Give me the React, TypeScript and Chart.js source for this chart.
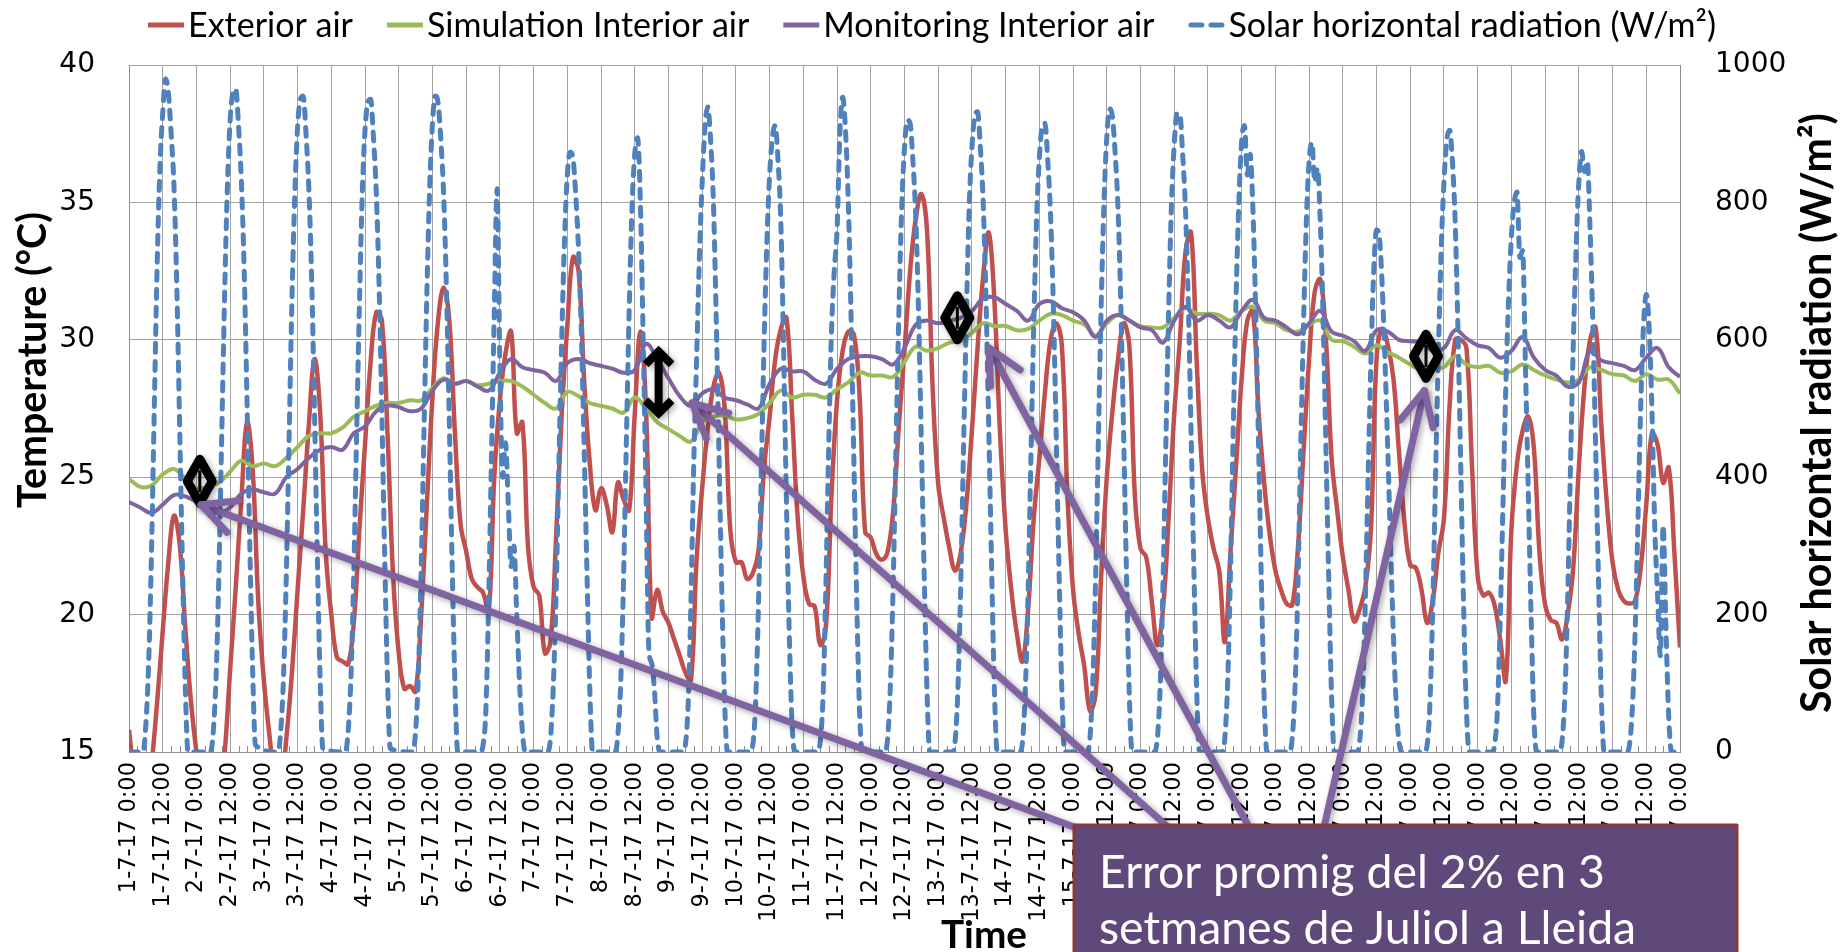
import React, { useEffect, useRef } from 'react';
import { Chart, registerables } from 'chart.js';

Chart.register(...registerables);

const CANVAS_W = 1843;
const CANVAS_H = 952;

// Time axis: one label every 12 hours
const xTickLabels = [
  '1-7-17 0:00', '1-7-17 12:00', '2-7-17 0:00', '2-7-17 12:00', '3-7-17 0:00', '3-7-17 12:00',
  '4-7-17 0:00', '4-7-17 12:00', '5-7-17 0:00', '5-7-17 12:00', '6-7-17 0:00', '6-7-17 12:00',
  '7-7-17 0:00', '7-7-17 12:00', '8-7-17 0:00', '8-7-17 12:00', '9-7-17 0:00', '9-7-17 12:00',
  '10-7-17 0:00', '10-7-17 12:00', '11-7-17 0:00', '11-7-17 12:00', '12-7-17 0:00', '12-7-17 12:00',
  '13-7-17 0:00', '13-7-17 12:00', '14-7-17 0:00', '14-7-17 12:00', '15-7-17 0:00', '15-7-17 12:00',
  '16-7-17 0:00', '16-7-17 12:00', '17-7-17 0:00', '17-7-17 12:00', '18-7-17 0:00', '18-7-17 12:00',
  '19-7-17 0:00', '19-7-17 12:00', '20-7-17 0:00', '20-7-17 12:00', '21-7-17 0:00', '21-7-17 12:00',
  '22-7-17 0:00', '22-7-17 12:00', '23-7-17 0:00', '23-7-17 12:00', '24-7-17 0:00',
];
const HOURS_PER_LABEL = 12;
const TOTAL_HOURS = (xTickLabels.length - 1) * HOURS_PER_LABEL;

// Exterior air temperature (°C), one value every 2 h, one row per day
const exteriorStepHours = 2;
const exteriorAir = [
  15.8, 14.0, 13.0, 12.8, 14.5, 16.8, 19.4, 21.9, 23.6, 22.6, 19.6, 16.9,
  15.0, 13.5, 12.5, 12.3, 13.0, 14.9, 18.0, 21.0, 24.2, 27.0, 25.3, 20.5,
  17.6, 15.6, 14.0, 13.8, 15.5, 17.9, 20.9, 23.8, 26.9, 29.3, 27.4, 22.3,
  20.0, 18.45, 18.3, 18.2, 19.7, 23.1, 26.2, 29.2, 31.0, 30.7, 26.6, 21.4,
  18.6, 17.3, 17.4, 17.2, 20.0, 24.0, 27.9, 30.7, 31.9, 30.7, 26.6, 23.3,
  22.3, 21.3, 21.0, 20.8, 20.1, 25.0, 27.8, 29.5, 30.3, 26.6, 27.0, 22.5,
  21.0, 20.7, 18.6, 19.0, 22.8, 27.3, 30.5, 33.0, 32.5, 28.5, 25.5, 23.8,
  24.6, 24.0, 23.0, 24.8, 24.2, 23.8, 27.3, 30.3, 27.5, 19.9, 20.9, 20.1,
  19.7, 19.1, 18.5, 17.9, 17.6, 22.0, 24.6, 26.8, 28.3, 28.8, 27.5, 23.1,
  21.9, 21.9, 21.3, 21.5, 22.3, 25.3, 27.2, 29.3, 30.4, 30.8, 27.3, 23.5,
  21.4, 20.4, 20.3, 18.9, 19.5, 24.3, 27.8, 29.6, 30.3, 30.2, 28.0, 23.0,
  22.8, 22.2, 22.0, 22.3, 23.8, 26.9, 29.6, 32.5, 34.4, 35.3, 34.0, 28.3,
  24.75, 23.5, 22.4, 21.6, 22.25, 24.0, 26.7, 29.7, 32.3, 33.9, 31.4, 26.6,
  23.1, 20.9, 19.3, 18.3, 20.2, 23.5, 25.7, 28.1, 30.0, 30.6, 29.8, 24.3,
  20.9, 19.3, 18.1, 16.5, 17.1, 21.4, 25.0, 27.4, 29.3, 30.6, 29.8, 24.3,
  22.4, 22.1, 20.5, 18.9, 20.2, 23.5, 27.3, 30.0, 33.2, 33.9, 29.2, 25.2,
  23.5, 22.4, 21.6, 19.0, 22.25, 25.4, 28.6, 30.7, 31.05, 27.4, 24.8, 22.9,
  21.6, 20.9, 20.4, 20.35, 22.4, 25.9, 29.3, 31.75, 32.2, 30.0, 25.7, 23.8,
  22.1, 20.9, 19.75, 20.2, 21.0, 23.1, 29.3, 30.4, 29.8, 28.6, 25.9, 23.3,
  21.8, 21.7, 20.9, 19.7, 20.5, 22.25, 23.5, 27.6, 30.0, 30.0, 29.7, 25.35,
  21.4, 20.7, 20.8, 20.35, 19.1, 17.6, 23.1, 25.5, 26.7, 27.2, 26.05, 22.25,
  20.35, 19.8, 19.7, 19.1, 20.0, 21.7, 25.35, 28.3, 30.0, 30.45, 26.9, 24.0,
  21.9, 20.9, 20.5, 20.4, 20.5, 21.7, 24.0, 26.6, 26.2, 24.8, 25.35, 22.25,
  18.8,
];

// Interior air temperatures (°C), one value every 4 h, one row per day
const interiorStepHours = 4;
const simulationInterior = [
  24.93, 24.65, 24.7, 25.1, 25.3, 24.95,
  24.6, 24.65, 24.8, 25.2, 25.6, 25.4,
  25.5, 25.4, 25.7, 26.1, 26.5, 26.6,
  26.6, 26.8, 27.2, 27.4, 27.6, 27.7,
  27.7, 27.8, 27.8, 28.25, 28.6, 28.4,
  28.5, 28.35, 28.4, 28.5, 28.5, 28.3,
  28.0, 27.7, 27.5, 28.1, 27.95, 27.7,
  27.6, 27.5, 27.35, 27.9, 27.5, 27.0,
  26.75, 26.5, 26.3, 27.0, 27.2, 27.25,
  27.1, 27.15, 27.3, 27.7, 28.15, 27.9,
  28.0, 28.0, 27.9, 28.2, 28.45, 28.8,
  28.7, 28.7, 28.65, 29.2, 29.75, 29.6,
  29.7, 29.9, 29.95, 30.25, 30.6, 30.5,
  30.5, 30.35, 30.4, 30.7, 30.95, 30.9,
  30.7, 30.55, 30.15, 30.6, 30.9, 30.7,
  30.5, 30.45, 30.45, 30.8, 31.15, 30.95,
  30.95, 30.9, 30.7, 31.05, 31.2, 30.7,
  30.6, 30.35, 30.3, 30.55, 30.7, 30.0,
  29.95, 29.75, 29.5, 29.8, 29.55, 29.35,
  29.1, 28.9, 28.95, 29.0, 29.4, 29.1,
  29.0, 29.05, 28.8, 28.85, 29.1, 28.9,
  28.7, 28.55, 28.45, 28.55, 29.0, 28.9,
  28.75, 28.7, 28.5, 28.75, 28.55, 28.55,
  28.05,
];
const monitoringInterior = [
  24.1, 23.9, 23.7, 24.0, 24.35, 24.3,
  24.1, 23.8, 23.7, 23.9, 24.4, 24.55,
  24.45, 24.4, 25.0, 25.3, 25.7, 26.0,
  26.1, 26.0, 26.6, 26.85, 27.4, 27.6,
  27.55, 27.4, 27.5, 28.15, 28.55, 28.4,
  28.5, 28.3, 28.15, 28.8, 29.3, 29.0,
  28.9, 28.8, 28.5, 29.15, 29.3, 29.15,
  29.05, 28.95, 28.8, 28.9, 29.85, 29.3,
  28.6, 27.95, 27.6, 28.05, 28.2, 27.9,
  27.8, 27.65, 27.5, 28.4, 28.95, 28.85,
  28.85, 28.55, 28.4, 28.95, 29.3, 29.4,
  29.4, 29.3, 29.1, 29.7, 30.55, 30.7,
  30.6, 30.7, 30.8, 31.05, 31.5, 31.55,
  31.3, 31.05, 30.7, 31.3, 31.4, 31.15,
  31.0, 30.7, 30.1, 30.7, 30.9, 30.7,
  30.45, 30.35, 29.9, 30.7, 31.2, 30.7,
  30.9, 30.7, 30.45, 31.05, 31.45, 30.8,
  30.7, 30.45, 30.2, 30.6, 31.05, 30.3,
  30.15, 29.95, 29.6, 30.35, 30.3, 30.0,
  29.95, 29.9, 29.6, 29.7, 30.35, 30.05,
  29.8, 29.7, 29.35, 29.6, 30.1, 29.35,
  28.9, 28.7, 28.3, 28.45, 29.6, 29.25,
  29.15, 29.05, 28.9, 29.35, 29.7, 29.0,
  28.65,
];

// Solar horizontal radiation (W/m²): hourly values from 5:00 to 21:00 of each day, zero at night
const solarFirstHour = 5;
const solarNight = 0;
const solarByDay = [
  [0, 40, 130, 290, 500, 705, 850, 930, 980, 960, 900, 825, 680, 480, 275, 100, 0],
  [0, 30, 110, 260, 460, 660, 820, 920, 960, 965, 910, 830, 700, 510, 300, 120, 10],
  [0, 30, 110, 260, 460, 660, 810, 910, 950, 955, 900, 820, 690, 500, 290, 110, 5],
  [0, 30, 110, 260, 460, 650, 810, 905, 945, 950, 895, 815, 680, 490, 285, 105, 5],
  [0, 30, 115, 270, 470, 665, 820, 915, 955, 945, 890, 810, 670, 480, 275, 100, 0],
  [0, 10, 60, 220, 430, 640, 820, 560, 400, 450, 360, 270, 300, 200, 100, 30, 0],
  [0, 20, 95, 230, 420, 600, 745, 840, 873, 865, 810, 730, 610, 440, 260, 90, 0],
  [0, 25, 100, 250, 450, 640, 790, 870, 894, 800, 600, 380, 150, 130, 90, 20, 0],
  [0, 10, 70, 220, 420, 570, 720, 830, 910, 939, 890, 800, 630, 430, 230, 70, 0],
  [0, 10, 70, 210, 400, 590, 740, 840, 895, 912, 860, 770, 580, 360, 170, 40, 0],
  [0, 15, 80, 240, 440, 610, 700, 760, 900, 953, 905, 800, 630, 420, 220, 60, 0],
  [0, 20, 100, 250, 450, 640, 790, 880, 920, 915, 860, 780, 640, 450, 260, 90, 0],
  [0, 15, 90, 240, 440, 630, 790, 880, 925, 932, 880, 800, 660, 470, 270, 90, 0],
  [0, 15, 90, 235, 430, 620, 775, 865, 910, 915, 860, 780, 645, 460, 265, 90, 0],
  [0, 20, 100, 250, 455, 650, 800, 895, 936, 925, 870, 790, 650, 460, 260, 85, 0],
  [0, 20, 95, 245, 445, 640, 795, 885, 930, 928, 870, 790, 655, 465, 265, 88, 0],
  [0, 20, 100, 260, 470, 660, 800, 890, 912, 840, 870, 790, 640, 450, 250, 80, 0],
  [0, 20, 95, 240, 440, 620, 770, 860, 887, 830, 850, 770, 630, 440, 250, 80, 0],
  [0, 15, 80, 220, 400, 570, 700, 760, 750, 680, 570, 440, 300, 170, 70, 15, 0],
  [0, 10, 70, 210, 400, 580, 730, 830, 890, 905, 860, 770, 610, 410, 210, 60, 0],
  [0, 10, 60, 190, 360, 530, 660, 750, 800, 815, 720, 730, 560, 380, 200, 50, 0],
  [0, 15, 80, 220, 410, 590, 730, 830, 874, 845, 860, 760, 620, 440, 250, 80, 0],
  [0, 10, 60, 170, 330, 500, 620, 666, 620, 500, 330, 230, 140, 330, 180, 50, 0],
];

const seriesLabels = [
  'Exterior air',
  'Simulation Interior air',
  'Monitoring Interior air',
  'Solar horizontal radiation (W/m²)',
];
const seriesColors = ['#c0504d', '#9bbb59', '#8064a2', '#4f81bd'];

const tempAxis = { min: 15, max: 40, step: 5 };
const solarAxis = { min: 0, max: 1000, step: 200 };

// Error indicators placed on the interior curves (hour, °C)
const errorMarkers = [
  { hour: 25.2, temp: 24.85, shape: 'diamond' },
  { hour: 188.5, temp: 28.45, shape: 'updown' },
  { hour: 294.8, temp: 30.8, shape: 'diamond' },
  { hour: 461.6, temp: 29.4, shape: 'diamond' },
];
// Callout arrow tips (hour, °C)
const arrowTips = [
  { hour: 25.6, temp: 24.0 },
  { hour: 200.4, temp: 27.7 },
  { hour: 306.1, temp: 29.7 },
  { hour: 461.0, temp: 28.15 },
];
const calloutLines = ['Error promig del 2% en 3', 'setmanes de Juliol a Lleida'];

// Layout
const PLOT = { left: 129, right: 1680, top: 65, bottom: 752 };
const CALLOUT = { left: 1074, right: 1737, top: 825 };
const ARROW_TAIL_X = [1074, 1168, 1249, 1324];
const GRID = '#a3a3a3';
const AXIS = '#8c8c8c';
const TITLE_FONT = 'Lato, "Noto Sans", sans-serif';
const TICK_FONT = '"DejaVu Sans", Verdana, sans-serif';

function fitSize(ctx: CanvasRenderingContext2D, text: string, target: number, weight: string) {
  ctx.font = `${weight} 100px ${TITLE_FONT}`;
  return (100 * target) / ctx.measureText(text).width;
}

function drawArrow(ctx: CanvasRenderingContext2D, x0: number, y0: number, x1: number, y1: number) {
  const ang = Math.atan2(y0 - y1, x0 - x1);
  const arm = 38;
  const spread = 0.46;
  ctx.beginPath();
  ctx.moveTo(x0, y0);
  ctx.lineTo(x1, y1);
  ctx.stroke();
  ctx.beginPath();
  ctx.moveTo(x1 + arm * Math.cos(ang + spread), y1 + arm * Math.sin(ang + spread));
  ctx.lineTo(x1, y1);
  ctx.lineTo(x1 + arm * Math.cos(ang - spread), y1 + arm * Math.sin(ang - spread));
  ctx.stroke();
}

const decorPlugin = {
  id: 'decor',
  beforeDatasetsDraw(chart: any) {
    const ctx: CanvasRenderingContext2D = chart.ctx;
    const xs = chart.scales.x;
    const bottom = chart.chartArea.bottom;
    ctx.save();
    ctx.strokeStyle = AXIS;
    ctx.lineWidth = 1;
    for (let h = 3; h < TOTAL_HOURS; h += 3) {
      if (h % HOURS_PER_LABEL === 0) continue;
      const x = Math.round(xs.getPixelForValue(h)) + 0.5;
      ctx.beginPath();
      ctx.moveTo(x, bottom);
      ctx.lineTo(x, bottom - 6);
      ctx.stroke();
    }
    ctx.restore();
  },
  afterDraw(chart: any) {
    const ctx: CanvasRenderingContext2D = chart.ctx;
    const xs = chart.scales.x;
    const ys = chart.scales.y;
    ctx.save();

    // legend
    const legendSize = fitSize(ctx, seriesLabels[0], 165, '400');
    ctx.font = `400 ${legendSize}px ${TITLE_FONT}`;
    const sample = 36;
    const gapIn = 4;
    const gapOut = 34;
    const widths = seriesLabels.map((t) => ctx.measureText(t).width);
    const total = widths.reduce((a, w) => a + sample + gapIn + w, 0) + gapOut * (seriesLabels.length - 1);
    let lx = 932 - total / 2;
    const ly = 25;
    ctx.textBaseline = 'middle';
    ctx.textAlign = 'left';
    seriesLabels.forEach((t, i) => {
      ctx.strokeStyle = seriesColors[i];
      ctx.lineWidth = 5;
      ctx.beginPath();
      if (i === 3) {
        ctx.lineCap = 'round';
        ctx.moveTo(lx + 2.5, ly);
        ctx.lineTo(lx + 13.5, ly);
        ctx.moveTo(lx + 22.5, ly);
        ctx.lineTo(lx + 33.5, ly);
      } else {
        ctx.lineCap = 'butt';
        ctx.moveTo(lx, ly);
        ctx.lineTo(lx + sample, ly);
      }
      ctx.stroke();
      ctx.fillStyle = '#000';
      ctx.fillText(t, lx + sample + gapIn, ly + 1);
      lx += sample + gapIn + widths[i] + gapOut;
    });

    // axis titles
    ctx.fillStyle = '#000';
    ctx.textAlign = 'center';
    ctx.textBaseline = 'middle';
    const leftTitle = 'Temperature (°C)';
    ctx.font = `700 ${fitSize(ctx, leftTitle, 296, '700')}px ${TITLE_FONT}`;
    ctx.save();
    ctx.translate(33, 360);
    ctx.rotate(-Math.PI / 2);
    ctx.fillText(leftTitle, 0, 0);
    ctx.restore();
    const rightTitle = 'Solar horizontal radiation (W/m²)';
    ctx.font = `700 ${fitSize(ctx, rightTitle, 600, '700')}px ${TITLE_FONT}`;
    ctx.save();
    ctx.translate(1818, 413);
    ctx.rotate(-Math.PI / 2);
    ctx.fillText(rightTitle, 0, 0);
    ctx.restore();
    const bottomTitle = 'Time';
    ctx.font = `700 ${fitSize(ctx, bottomTitle, 86, '700')}px ${TITLE_FONT}`;
    ctx.fillText(bottomTitle, 984, 936);

    // error markers
    ctx.shadowColor = 'rgba(0,0,0,0.35)';
    ctx.shadowBlur = 6;
    ctx.shadowOffsetX = 2;
    ctx.shadowOffsetY = 2;
    ctx.strokeStyle = '#000';
    ctx.lineJoin = 'round';
    ctx.lineCap = 'butt';
    errorMarkers.forEach((m) => {
      const cx = xs.getPixelForValue(m.hour);
      const cy = ys.getPixelForValue(m.temp);
      ctx.beginPath();
      if (m.shape === 'diamond') {
        ctx.lineWidth = 9;
        ctx.moveTo(cx, cy - 22);
        ctx.lineTo(cx + 12.5, cy);
        ctx.lineTo(cx, cy + 22);
        ctx.lineTo(cx - 12.5, cy);
        ctx.closePath();
        ctx.stroke();
        ctx.lineWidth = 3;
        ctx.beginPath();
        ctx.moveTo(cx, cy - 11);
        ctx.lineTo(cx, cy + 11);
        ctx.stroke();
      } else {
        ctx.lineWidth = 8;
        ctx.lineJoin = 'miter';
        ctx.moveTo(cx - 13, cy - 18);
        ctx.lineTo(cx, cy - 31);
        ctx.lineTo(cx + 13, cy - 18);
        ctx.moveTo(cx - 13, cy + 18);
        ctx.lineTo(cx, cy + 31);
        ctx.lineTo(cx + 13, cy + 18);
        ctx.moveTo(cx, cy - 29);
        ctx.lineTo(cx, cy + 29);
        ctx.stroke();
        ctx.lineJoin = 'round';
      }
    });

    // callout arrows
    ctx.strokeStyle = '#8064a2';
    ctx.lineWidth = 7;
    ctx.lineCap = 'round';
    ctx.lineJoin = 'round';
    arrowTips.forEach((t, i) => {
      const tx = xs.getPixelForValue(t.hour);
      const ty = ys.getPixelForValue(t.temp);
      drawArrow(ctx, ARROW_TAIL_X[i], CALLOUT.top + 2, tx, ty);
    });

    // callout box
    ctx.shadowColor = 'transparent';
    ctx.fillStyle = '#5f497a';
    ctx.strokeStyle = '#8c3836';
    ctx.lineWidth = 3;
    ctx.beginPath();
    ctx.rect(CALLOUT.left, CALLOUT.top, CALLOUT.right - CALLOUT.left, CANVAS_H - CALLOUT.top + 10);
    ctx.fill();
    ctx.stroke();
    ctx.fillStyle = '#ffffff';
    ctx.textAlign = 'left';
    ctx.textBaseline = 'alphabetic';
    ctx.font = `400 ${fitSize(ctx, calloutLines[0], 506, '400')}px ${TITLE_FONT}`;
    ctx.fillText(calloutLines[0], 1099, 888);
    ctx.fillText(calloutLines[1], 1099, 944);

    ctx.restore();
  },
};

export default function App() {
  const canvasRef = useRef<HTMLCanvasElement | null>(null);

  useEffect(() => {
    const canvas = canvasRef.current;
    if (!canvas) return;

    const exteriorPoints = exteriorAir.map((v, i) => ({ x: i * exteriorStepHours, y: v }));
    const simulationPoints = simulationInterior.map((v, i) => ({ x: i * interiorStepHours, y: v }));
    const monitoringPoints = monitoringInterior.map((v, i) => ({ x: i * interiorStepHours, y: v }));
    const solarPoints: { x: number; y: number }[] = [{ x: 0, y: solarNight }];
    solarByDay.forEach((day, d) => {
      day.forEach((v, k) => solarPoints.push({ x: d * 24 + solarFirstHour + k, y: v }));
    });
    solarPoints.push({ x: TOTAL_HOURS, y: solarNight });

    const chart = new Chart(canvas, {
      type: 'line',
      data: {
        datasets: [
          {
            label: seriesLabels[0],
            data: exteriorPoints,
            borderColor: seriesColors[0],
            borderWidth: 4.5,
            pointRadius: 0,
            tension: 0.4,
            yAxisID: 'y',
            order: 3,
          },
          {
            label: seriesLabels[1],
            data: simulationPoints,
            borderColor: seriesColors[1],
            borderWidth: 4,
            pointRadius: 0,
            tension: 0.4,
            yAxisID: 'y',
            order: 2,
          },
          {
            label: seriesLabels[2],
            data: monitoringPoints,
            borderColor: seriesColors[2],
            borderWidth: 4,
            pointRadius: 0,
            tension: 0.4,
            yAxisID: 'y',
            order: 1,
          },
          {
            label: seriesLabels[3],
            data: solarPoints,
            borderColor: seriesColors[3],
            borderWidth: 5,
            borderDash: [9, 9],
            borderCapStyle: 'round',
            pointRadius: 0,
            cubicInterpolationMode: 'monotone',
            yAxisID: 'y2',
            order: 0,
          },
        ],
      },
      options: {
        animation: false,
        responsive: false,
        devicePixelRatio: 1,
        events: [],
        layout: { padding: { top: PLOT.top, left: 0, right: 0, bottom: 0 } },
        plugins: { legend: { display: false }, tooltip: { enabled: false } },
        scales: {
          x: {
            type: 'linear',
            min: 0,
            max: TOTAL_HOURS,
            afterBuildTicks: (axis: any) => {
              axis.ticks = xTickLabels.map((_, i) => ({ value: i * HOURS_PER_LABEL }));
            },
            afterFit: (axis: any) => {
              axis.height = CANVAS_H - PLOT.bottom;
            },
            ticks: {
              autoSkip: false,
              minRotation: 90,
              maxRotation: 90,
              padding: 10,
              color: '#000',
              font: { family: TICK_FONT, size: 22.5 },
              callback: (_v: any, i: number) => xTickLabels[i],
            },
            grid: { color: GRID, drawTicks: false },
            border: { color: AXIS },
          },
          y: {
            position: 'left',
            min: tempAxis.min,
            max: tempAxis.max,
            afterFit: (axis: any) => {
              axis.width = PLOT.left;
            },
            ticks: {
              stepSize: tempAxis.step,
              padding: 34,
              color: '#000',
              font: { family: TICK_FONT, size: 28 },
              callback: (v: any) => String(v),
            },
            grid: { color: GRID, drawTicks: false },
            border: { color: AXIS },
          },
          y2: {
            position: 'right',
            min: solarAxis.min,
            max: solarAxis.max,
            afterFit: (axis: any) => {
              axis.width = CANVAS_W - PLOT.right;
            },
            ticks: {
              stepSize: solarAxis.step,
              padding: 35,
              color: '#000',
              font: { family: TICK_FONT, size: 28 },
              callback: (v: any) => String(v),
            },
            grid: { drawOnChartArea: false, drawTicks: false },
            border: { color: AXIS },
          },
        },
      },
      plugins: [decorPlugin],
    } as any);

    return () => chart.destroy();
  }, []);

  return (
    <div style={{ position: 'absolute', left: 0, top: 0, width: CANVAS_W, height: CANVAS_H, background: '#fff' }}>
      <canvas
        ref={canvasRef}
        width={CANVAS_W}
        height={CANVAS_H}
        style={{ width: CANVAS_W, height: CANVAS_H, display: 'block' }}
      />
    </div>
  );
}
